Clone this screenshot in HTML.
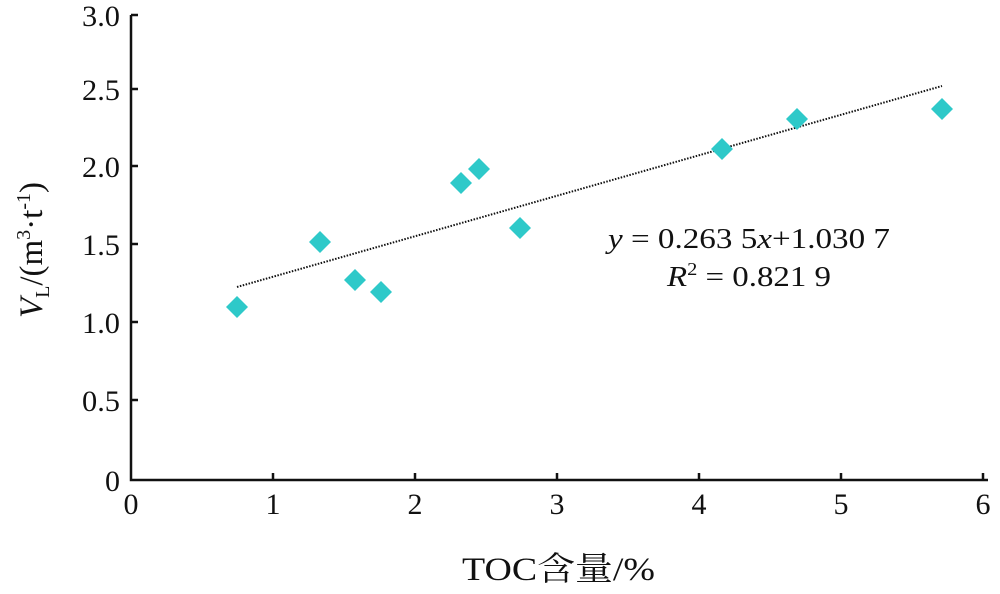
<!DOCTYPE html>
<html><head><meta charset="utf-8"><style>
body{margin:0;background:#fff}
svg text{font-family:"Liberation Serif","Noto Serif CJK SC",serif;fill:#111}
</style></head><body>
<svg width="1000" height="589" xmlns="http://www.w3.org/2000/svg">
<g stroke="#111" stroke-width="2.5" fill="none">
<path d="M131,15 V480 H988"/>
<path d="M131,15 h7 M131,89 h7 M131,166 h7 M131,244 h7 M131,322 h7 M131,400 h7"/>
<path d="M273,480 v-7 M415,480 v-7 M557,480 v-7 M699,480 v-7 M841,480 v-7 M983,480 v-7"/>
</g>
<g font-size="30" text-anchor="end">
<text x="120" y="26" textLength="38" lengthAdjust="spacingAndGlyphs">3.0</text>
<text x="120" y="100" textLength="38" lengthAdjust="spacingAndGlyphs">2.5</text>
<text x="120" y="177" textLength="38" lengthAdjust="spacingAndGlyphs">2.0</text>
<text x="120" y="255" textLength="38" lengthAdjust="spacingAndGlyphs">1.5</text>
<text x="120" y="333" textLength="38" lengthAdjust="spacingAndGlyphs">1.0</text>
<text x="120" y="411" textLength="38" lengthAdjust="spacingAndGlyphs">0.5</text>
<text x="120" y="491">0</text>
</g>
<g font-size="30" text-anchor="middle">
<text x="131" y="514">0</text><text x="273" y="514">1</text><text x="415" y="514">2</text>
<text x="557" y="514">3</text><text x="699" y="514">4</text><text x="841" y="514">5</text><text x="983" y="514">6</text>
</g>
<text x="462" y="580" font-size="33" textLength="193" lengthAdjust="spacingAndGlyphs">TOC含量/%</text>
<text transform="translate(42,250) rotate(-90)" font-size="33" text-anchor="middle"><tspan font-style="italic">V</tspan><tspan font-size="20" dy="7">L</tspan><tspan dy="-7">/(m</tspan><tspan font-size="20" dy="-12">3</tspan><tspan dy="12">·t</tspan><tspan font-size="20" dy="-12">-1</tspan><tspan dy="12">)</tspan></text>
<line x1="237" y1="287" x2="942" y2="86" stroke="#111" stroke-width="2" stroke-dasharray="1.5,1.5"/>
<g fill="#2ec9c9">
<path d="M237,296 l11,11 l-11,11 l-11,-11z"/>
<path d="M320,231 l11,11 l-11,11 l-11,-11z"/>
<path d="M355,269 l11,11 l-11,11 l-11,-11z"/>
<path d="M381,281 l11,11 l-11,11 l-11,-11z"/>
<path d="M461,172 l11,11 l-11,11 l-11,-11z"/>
<path d="M479,158 l11,11 l-11,11 l-11,-11z"/>
<path d="M520,217 l11,11 l-11,11 l-11,-11z"/>
<path d="M722,138 l11,11 l-11,11 l-11,-11z"/>
<path d="M797,108 l11,11 l-11,11 l-11,-11z"/>
<path d="M942,98 l11,11 l-11,11 l-11,-11z"/>
</g>
<text x="608" y="248" font-size="29" textLength="282" lengthAdjust="spacingAndGlyphs"><tspan font-style="italic">y</tspan> = 0.263 5<tspan font-style="italic">x</tspan>+1.030 7</text>
<text x="667" y="286" font-size="29" textLength="164" lengthAdjust="spacingAndGlyphs"><tspan font-style="italic">R</tspan><tspan font-size="18" dy="-11">2</tspan><tspan dy="11"> = 0.821 9</tspan></text>
</svg>
</body></html>
